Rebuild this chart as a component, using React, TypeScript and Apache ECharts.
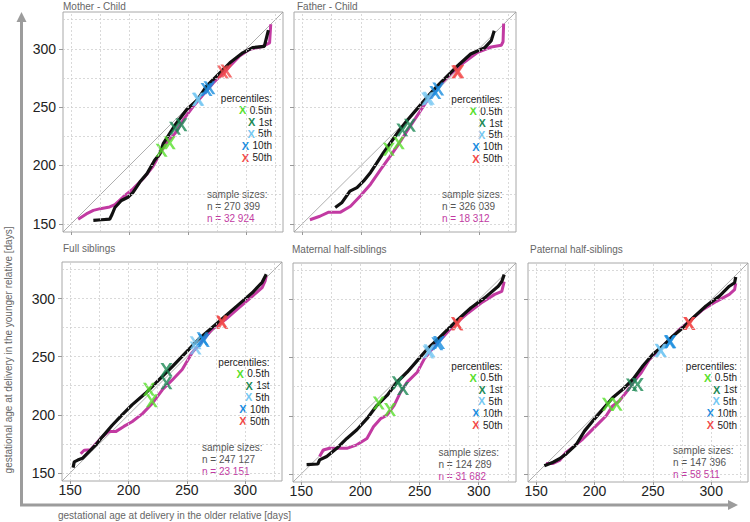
import React, { useEffect, useRef } from "react";
import * as echarts from "echarts";

// ---------- data ----------
const PANEL_TITLES = ["Mother - Child", "Father - Child", "Full siblings", "Maternal half-siblings", "Paternal half-siblings"];
const TICKS = [150, 200, 250, 300];
const GRID_VALUES = [150, 175, 200, 225, 250, 275, 300, 325];
const AXIS_MIN = 143;
const AXIS_MAX = 331.5;
const PCT_LABELS = ["0.5th", "1st", "5th", "10th", "50th"];
const PCT_COLORS = ["#58e02c", "#1d8a55", "#74c7f2", "#1a8ddf", "#f24a4a"];
const SAMPLE_BLACK = ["n = 270 399", "n = 326 039", "n = 247 127", "n = 124 289", "n = 147 396"];
const SAMPLE_MAG = ["n = 32 924", "n = 18 312", "n = 23 151", "n = 31 682", "n = 58 511"];
const X_TITLE = "gestational age at delivery in the older relative [days]";
const Y_TITLE = "gestational age at delivery in the younger relative [days]";

const mcBlack = [[169,153],[176,153.5],[183,154],[185,158],[187.5,164],[193,170],[199,173],[203,177],[209,186],[215,193],[221.5,204.5],[226,210],[229,219],[234.5,227.5],[240,236],[249,248],[258,256],[266,268],[274,276],[286,288],[297,296.5],[305.5,301],[315.5,302],[317,308],[319,316]];
const mcMag = [[156,154],[163,158.5],[169,161.5],[175,163],[183,164.5],[187.5,166.5],[194.5,173],[203,180],[212,189],[220,199],[226,210],[231.5,219],[239,227.5],[246,239],[254.5,250.5],[263,260.5],[271.5,270.5],[283,282],[294,293.5],[303,299.5],[314,302],[320,305],[321,321]];
const mcPctBlack = [[227.5,213],[239,232],[259,257],[266,265],[280,280]];
const mcPctMag = [[234.5,219.5],[244.5,235],[258.5,256.5],[268.5,266.5],[283,281]];

const fcBlack = [[178,164],[183.5,168],[190.5,178],[196.5,181],[202,186.5],[208,194],[213.5,202.5],[219,211],[225,219.5],[232,229.5],[239,238.5],[247.5,248.5],[256,258.5],[265,268.5],[273.5,277],[282,285.5],[293,295.5],[305,301],[310.5,307],[313,315.5]];
const fcMag = [[156.5,153.5],[165,156.5],[172.5,160],[182.5,160],[191,165],[199.5,174],[208,184],[216.5,196.5],[224,207],[231,217],[239,229.5],[247.5,242.5],[256,255.5],[265,267],[276,278.5],[287.5,288.5],[299,297],[310.5,301.5],[319,303],[320.5,306],[321,321.5]];
const fcPctBlack = [[223.5,214],[235,230.5],[256,257],[263,262.5],[281.5,280]];
const fcPctMag = [[232,219.5],[241.5,234.5],[257.5,257.5],[265.5,265.5],[282.5,280.5]];

const fsBlack = [[152.5,154.5],[153.5,159.5],[156.5,161],[160.5,162.5],[166,168],[172,174],[177.5,181],[186,191],[194.5,200],[203,208.5],[214.5,218.5],[226,230],[237.5,241.5],[249,253.5],[260,265],[271.5,275],[283,285],[294.5,295],[306,305],[314.5,314],[318,321]];
const fsMag = [[159,166.5],[162,169.5],[167.5,170],[172,175],[177.5,181],[183,185.5],[189,185.5],[196,190],[203,194],[212,201],[220.5,210],[229,221.5],[237.5,230],[246,239],[254.5,253.5],[263,263.5],[271.5,273.5],[283,282],[294.5,292],[306,302],[314.5,309.5],[317,315],[318,319.5]];
const fsPctBlack = [[217.5,222],[232.5,239],[257.5,262],[263.5,265.5],[279.5,280]];
const fsPctMag = [[220,212],[232.5,227.5],[257.5,257.5],[264.5,264],[280.5,279.5]];

const mhBlack = [[154.5,158],[164,158.5],[165.5,162],[171.5,165],[180,172],[188.5,180.5],[197,188],[205.5,197.5],[214,209],[222.5,217.5],[231,229],[239.5,237.5],[248,247.5],[256.5,257.5],[265.5,266],[274,274.5],[282.5,283],[293.5,293],[305,301.5],[316.5,311.5],[319.5,315.5],[321.5,321.5]];
const mhMag = [[165.5,165],[168.5,170.5],[174,172],[188.5,172],[197,175],[205.5,180.5],[211,190.5],[217,197.5],[222.5,200.5],[228.5,209],[234,220.5],[239.5,229],[248,237.5],[254,249],[262.5,260],[271,269],[279.5,278.5],[291,288.5],[302,297],[313.5,304.5],[319.5,307],[321.5,315.5]];
const mhPctBlack = [[215.5,211],[231.5,228.5],[257.5,255],[266.5,263],[281.5,279.5]];
const mhPctMag = [[225,205.5],[236,223.5],[258.5,256],[265,262],[282,279]];

const phBlack = [[157,157],[164.5,160],[170,163],[175.5,167],[184.5,175.5],[191.5,187],[198.5,195.5],[207,205.5],[215.5,215.5],[224.5,223],[233,231.5],[241.5,243],[250,253],[258.5,260],[267,268.5],[275.5,275.5],[284.5,284.5],[295.5,294.5],[307,303],[315.5,311.5],[320,314.5],[321,319.5]];
const phMag = [[158.5,159],[164.5,159],[170,161.5],[175.5,168.5],[181.5,173],[190,180],[197,187],[204.5,194.5],[210,200],[215.5,208.5],[221.5,213],[227,220],[233,228.5],[240,237],[247,248.5],[255.5,257],[264.5,265.5],[273,274.5],[281.5,281.5],[293,291.5],[304.5,298.5],[315.5,304.5],[320,308.5],[321,314]];
const phPctBlack = [[211.5,210],[232,226.5],[256.5,256.5],[264.5,263.5],[281,279.5]];
const phPctMag = [[219,210],[237,227],[257,256],[265,264],[281.5,279.5]];

const BLACK_LINES = [mcBlack, fcBlack, fsBlack, mhBlack, phBlack];
const MAG_LINES = [mcMag, fcMag, fsMag, mhMag, phMag];
const PCT_BLACK = [mcPctBlack, fcPctBlack, fsPctBlack, mhPctBlack, phPctBlack];
const PCT_MAG = [mcPctMag, fcPctMag, fsPctMag, mhPctMag, phPctMag];

// ---------- layout ----------
const GRID_BOXES = [
  { left: 63, top: 12, width: 220, height: 220 },
  { left: 294, top: 12, width: 222, height: 220 },
  { left: 62, top: 262, width: 220, height: 219 },
  { left: 293, top: 263, width: 223, height: 219 },
  { left: 528, top: 263, width: 220, height: 219 },
];
const SHOW_X_LABELS = [false, false, true, true, true];
const SHOW_Y_LABELS = [true, false, true, false, false];
const TITLE_POS = [[63, 6], [297, 6], [63, 248], [292, 249], [530, 249]];
const LEGEND_POS = [
  { rx: 272, py: 98.5, sx: 207, sy: 194.5 },
  { rx: 502.5, py: 99.5, sx: 442, sy: 194.5 },
  { rx: 269.5, py: 362, sx: 202, sy: 447 },
  { rx: 502.5, py: 366, sx: 438.5, sy: 452 },
  { rx: 737, py: 366, sx: 673, sy: 450.5 },
];

const BLACK = "#111111";
const MAGENTA = "#c23aa2";
const FONT = "'Liberation Sans', Arial, Helvetica, sans-serif";
const X_MARK = "path://M0,0L3,0L6,4.2L9,0L12,0L7.6,6L12,12L9,12L6,7.8L3,12L0,12L4.4,6Z";

export default function App() {
  const ref = useRef<HTMLDivElement>(null);

  useEffect(() => {
    if (!ref.current) return;
    const chart = echarts.init(ref.current, null, { renderer: "svg" });

    const grid = GRID_BOXES.map((b) => ({
      ...b,
      show: true,
      borderColor: "#a8a8a8",
      borderWidth: 1,
      backgroundColor: "transparent",
    }));

    const xAxis = GRID_BOXES.map((_, i) => ({
      gridIndex: i,
      type: "value",
      min: AXIS_MIN,
      max: AXIS_MAX,
      splitLine: { show: false },
      axisLine: { show: false },
      axisTick: { show: true, customValues: TICKS, length: 3, lineStyle: { color: "#999" } },
      axisLabel: {
        show: SHOW_X_LABELS[i],
        customValues: TICKS,
        fontSize: 14,
        color: "#222",
        margin: 2,
        fontFamily: FONT,
      },
    }));

    const yAxis = GRID_BOXES.map((_, i) => ({
      gridIndex: i,
      type: "value",
      min: AXIS_MIN,
      max: AXIS_MAX,
      splitLine: { show: false },
      axisLine: { show: false },
      axisTick: { show: true, customValues: TICKS, length: 4, lineStyle: { color: "#999" } },
      axisLabel: {
        show: SHOW_Y_LABELS[i],
        customValues: TICKS,
        fontSize: 14,
        color: "#222",
        margin: 7,
        fontFamily: FONT,
      },
    }));

    const series: any[] = [];
    GRID_BOXES.forEach((_, i) => {
      series.push({
        type: "line",
        xAxisIndex: i,
        yAxisIndex: i,
        data: [[AXIS_MIN, AXIS_MIN], [AXIS_MAX, AXIS_MAX]],
        showSymbol: false,
        symbol: "none",
        lineStyle: { color: "#9a9a9a", width: 0.8 },
        silent: true,
        z: 1,
        markLine: {
          silent: true,
          symbol: ["none", "none"],
          label: { show: false },
          lineStyle: { color: "#cfcfcf", type: [2, 2], width: 0.8 },
          data: [
            ...GRID_VALUES.map((v) => ({ xAxis: v })),
            ...GRID_VALUES.map((v) => ({ yAxis: v })),
          ],
        },
      });
      series.push({
        type: "line",
        xAxisIndex: i,
        yAxisIndex: i,
        data: MAG_LINES[i],
        showSymbol: false,
        symbol: "none",
        lineStyle: { color: MAGENTA, width: 3 },
        z: 2,
      });
      series.push({
        type: "line",
        xAxisIndex: i,
        yAxisIndex: i,
        data: BLACK_LINES[i],
        showSymbol: false,
        symbol: "none",
        lineStyle: { color: BLACK, width: 3.2 },
        z: 3,
      });
      const pts: any[] = [];
      PCT_COLORS.forEach((c, k) => {
        pts.push({ value: PCT_MAG[i][k], itemStyle: { color: c } });
        pts.push({ value: PCT_BLACK[i][k], itemStyle: { color: c } });
      });
      series.push({
        type: "scatter",
        xAxisIndex: i,
        yAxisIndex: i,
        data: pts,
        symbol: X_MARK,
        symbolSize: [12, 13],
        z: 4,
      });
    });

    const graphics: any[] = [];
    // arrows
    graphics.push({
      type: "line",
      shape: { x1: 21.5, y1: 506, x2: 21.5, y2: 20 },
      style: { stroke: "#9c9c9c", lineWidth: 3 },
    });
    graphics.push({
      type: "polygon",
      shape: { points: [[21.5, 12], [16.5, 22], [26.5, 22]] },
      style: { fill: "#9c9c9c" },
    });
    graphics.push({
      type: "line",
      shape: { x1: 20, y1: 505, x2: 730, y2: 505 },
      style: { stroke: "#9c9c9c", lineWidth: 3 },
    });
    graphics.push({
      type: "polygon",
      shape: { points: [[738, 505], [728, 500], [728, 510]] },
      style: { fill: "#9c9c9c" },
    });
    // axis titles
    graphics.push({
      type: "text",
      x: 58,
      y: 515,
      style: { text: X_TITLE, fill: "#666", font: `10px ${FONT}`, textVerticalAlign: "middle" },
    });
    graphics.push({
      type: "text",
      x: 8,
      y: 350,
      rotation: Math.PI / 2,
      style: { text: Y_TITLE, fill: "#666", font: `10px ${FONT}`, textAlign: "center", textVerticalAlign: "middle" },
    });

    GRID_BOXES.forEach((_, i) => {
      graphics.push({
        type: "text",
        x: TITLE_POS[i][0],
        y: TITLE_POS[i][1],
        style: { text: PANEL_TITLES[i], fill: "#666", font: `10px ${FONT}`, textVerticalAlign: "middle" },
      });
      const lp = LEGEND_POS[i];
      graphics.push({
        type: "text",
        x: lp.rx,
        y: lp.py,
        style: { text: "percentiles:", fill: "#222", font: `10px ${FONT}`, textAlign: "right", textVerticalAlign: "middle" },
      });
      PCT_LABELS.forEach((lab, k) => {
        graphics.push({
          type: "text",
          x: lp.rx,
          y: lp.py + 11.8 * (k + 1),
          style: {
            text: `{m|X} {t|${lab}}`,
            textAlign: "right",
            textVerticalAlign: "middle",
            rich: {
              m: { fill: PCT_COLORS[k], font: `bold 11px ${FONT}` },
              t: { fill: "#222", font: `10px ${FONT}` },
            },
          },
        });
      });
      graphics.push({
        type: "text",
        x: lp.sx,
        y: lp.sy,
        style: { text: "sample sizes:", fill: "#555", font: `10px ${FONT}`, textVerticalAlign: "middle" },
      });
      graphics.push({
        type: "text",
        x: lp.sx,
        y: lp.sy + 12.2,
        style: { text: SAMPLE_BLACK[i], fill: "#555", font: `10px ${FONT}`, textVerticalAlign: "middle" },
      });
      graphics.push({
        type: "text",
        x: lp.sx,
        y: lp.sy + 24.4,
        style: { text: SAMPLE_MAG[i], fill: MAGENTA, font: `10px ${FONT}`, textVerticalAlign: "middle" },
      });
    });

    chart.setOption({
      animation: false,
      backgroundColor: "#ffffff",
      grid,
      xAxis,
      yAxis,
      series,
      graphic: { elements: graphics },
    });

    return () => chart.dispose();
  }, []);

  return (
    <div
      ref={ref}
      style={{ position: "fixed", left: 0, top: 0, width: 750, height: 522, background: "#fff" }}
    />
  );
}
